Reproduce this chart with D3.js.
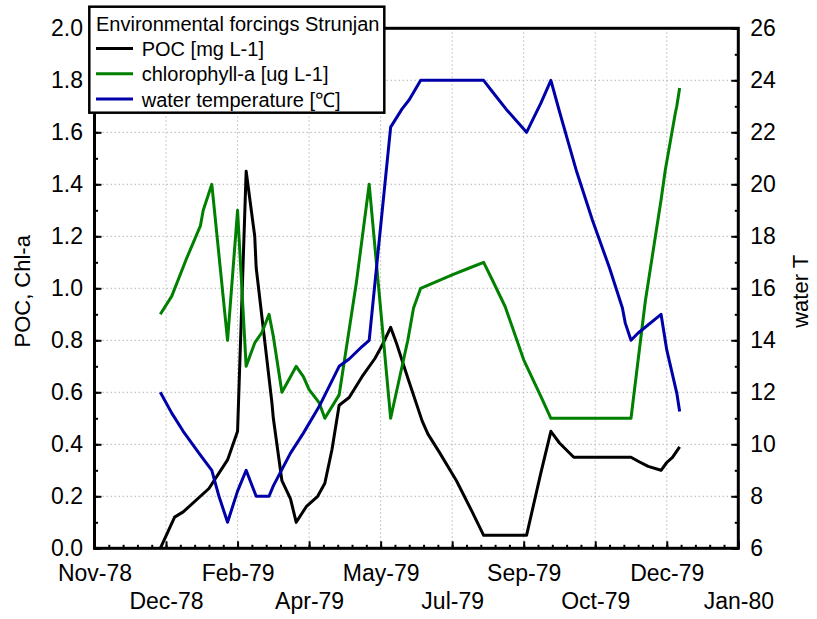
<!DOCTYPE html>
<html><head><meta charset="utf-8">
<script src="https://cdn.jsdelivr.net/npm/d3@7"></script>
<style>body{margin:0;background:#fff} svg{display:block} text{font-family:"Liberation Sans",Arial,sans-serif;fill:#000}</style>
</head><body><svg id="c" width="817" height="619"></svg>
<script>
// ---- data ----
const pocDates = ["1978-12-22","1979-01-01","1979-01-07","1979-01-25","1979-02-07","1979-02-14","1979-02-20","1979-02-26","1979-02-27","1979-03-10","1979-03-11","1979-03-17","1979-03-23","1979-03-27","1979-04-03","1979-04-11","1979-04-16","1979-04-21","1979-04-26","1979-05-03","1979-05-12","1979-05-21","1979-05-26","1979-06-01","1979-06-05","1979-06-13","1979-06-23","1979-06-27","1979-07-05","1979-07-17","1979-07-28","1979-08-05","1979-09-04","1979-09-14","1979-09-21","1979-09-27","1979-10-07","1979-11-16","1979-11-21","1979-11-28","1979-12-07","1979-12-11","1979-12-15","1979-12-20"];
const pocValues = [0.0,0.12,0.14,0.23,0.34,0.45,1.45,1.2,1.08,0.56,0.5,0.26,0.19,0.1,0.16,0.2,0.25,0.38,0.55,0.58,0.66,0.73,0.78,0.85,0.79,0.655,0.49,0.44,0.37,0.26,0.14,0.05,0.05,0.29,0.45,0.405,0.35,0.35,0.335,0.315,0.3,0.33,0.35,0.39];

const chlDates = ["1978-12-22","1978-12-30","1979-01-09","1979-01-19","1979-01-21","1979-01-27","1979-02-07","1979-02-14","1979-02-20","1979-02-26","1979-03-03","1979-03-08","1979-03-11","1979-03-17","1979-03-23","1979-03-27","1979-04-01","1979-04-05","1979-04-12","1979-04-16","1979-04-26","1979-05-08","1979-05-17","1979-06-01","1979-06-13","1979-06-17","1979-06-22","1979-07-03","1979-07-14","1979-07-26","1979-08-05","1979-08-11","1979-08-20","1979-09-02","1979-09-14","1979-09-21","1979-11-16","1979-11-26","1979-12-07","1979-12-10","1979-12-17","1979-12-18","1979-12-20"];
const chlValues = [0.9,0.97,1.11,1.24,1.3,1.4,0.8,1.3,0.7,0.79,0.83,0.9,0.815,0.6,0.66,0.7,0.66,0.61,0.56,0.5,0.59,1.02,1.4,0.5,0.8,0.924,1.0,1.026,1.052,1.078,1.1,1.033,0.93,0.725,0.584,0.5,0.5,0.95,1.34,1.456,1.674,1.7,1.77];

const tempDates = ["1978-12-22","1978-12-30","1979-01-07","1979-01-18","1979-01-27","1979-02-01","1979-02-07","1979-02-14","1979-02-20","1979-02-27","1979-03-08","1979-03-11","1979-03-23","1979-04-01","1979-04-12","1979-04-26","1979-05-03","1979-05-12","1979-05-17","1979-06-01","1979-06-09","1979-06-14","1979-06-22","1979-08-05","1979-08-11","1979-08-21","1979-09-04","1979-09-14","1979-09-21","1979-09-27","1979-10-04","1979-10-09","1979-10-20","1979-11-01","1979-11-10","1979-11-12","1979-11-16","1979-11-21","1979-12-07","1979-12-11","1979-12-18","1979-12-20"];
const tempValues = [12.0,11.2,10.5,9.66,9.0,8.0,7.0,8.2,9.0,8.0,8.0,8.4,9.66,10.43,11.45,13.0,13.28,13.76,14.0,22.2,22.9,23.25,24.0,24.0,23.57,22.87,22.0,23.12,24.0,22.8,21.45,20.49,18.63,16.78,15.24,14.66,14.0,14.28,15.0,13.63,11.97,11.26];

const xTickDates = ["1978-11-06","1978-12-26","1979-02-14","1979-04-05","1979-05-25","1979-07-14","1979-09-02","1979-10-22","1979-12-11","1980-01-30"];
const leftTicks = [0,0.2,0.4,0.6,0.8,1.0,1.2,1.4,1.6,1.8,2.0];
const rightTicks = [6,8,10,12,14,16,18,20,22,24,26];
const seriesNames = ["POC [mg L-1]","chlorophyll-a [ug L-1]","water temperature [\u2103]"];
const legendTitle = "Environmental forcings Strunjan";
const leftTitle = "POC, Chl-a";
const rightTitle = "water T";

// ---- layout ----
const svg = d3.select("#c");
const M = {l:94.5, r:738.3, t:28.3, b:548.3};
const parse = d3.timeParse("%Y-%m-%d");
const xt = xTickDates.map(parse);
const x = d3.scaleTime().domain([xt[0], xt[xt.length-1]]).range([M.l, M.r]);
const yL = d3.scaleLinear().domain([0,2]).range([M.b, M.t]);
const yR = d3.scaleLinear().domain([6,26]).range([M.b, M.t]);
const colors = ["#000000","#008000","#0000a8"];
const FS = 23;

// grid
const grid = svg.append("g").attr("stroke","#b8b8b8").attr("stroke-width",1).attr("stroke-dasharray","1.5,2.5");
grid.selectAll(".gv").data(xt.slice(1,-1)).enter().append("line")
  .attr("x1",d=>x(d)).attr("x2",d=>x(d)).attr("y1",M.t).attr("y2",M.b);
grid.selectAll(".gh").data(leftTicks.slice(1,-1)).enter().append("line")
  .attr("x1",M.l).attr("x2",M.r).attr("y1",d=>yL(d)).attr("y2",d=>yL(d));

// minor ticks
const minorX = d3.range(0, 451, 10).map(k=>d3.timeDay.offset(xt[0], k));
svg.append("g").attr("transform",`translate(0,${M.b})`)
  .call(d3.axisBottom(x).tickValues(minorX).tickSizeInner(-3.5).tickSizeOuter(0).tickFormat(""))
  .call(g=>{g.select(".domain").remove(); g.selectAll("line").attr("stroke-width",2);});
const minorY = d3.range(0, 21).map(k=>k*0.1);
svg.append("g").attr("transform",`translate(${M.l},0)`)
  .call(d3.axisLeft(yL).tickValues(minorY).tickSizeInner(-3.5).tickSizeOuter(0).tickFormat(""))
  .call(g=>{g.select(".domain").remove(); g.selectAll("line").attr("stroke-width",2);});
svg.append("g").attr("transform",`translate(${M.r},0)`)
  .call(d3.axisRight(yR).tickValues(d3.range(6,27,1)).tickSizeInner(-3.5).tickSizeOuter(0).tickFormat(""))
  .call(g=>{g.select(".domain").remove(); g.selectAll("line").attr("stroke-width",2);});

// major axes
const fmt = d3.timeFormat("%b-%y");
const ax = svg.append("g").attr("transform",`translate(0,${M.b})`)
  .call(d3.axisBottom(x).tickValues(xt).tickSizeInner(-7).tickSizeOuter(0).tickFormat(fmt));
ax.select(".domain").remove();
ax.selectAll("line").attr("stroke-width",2);
ax.selectAll("text").attr("font-size",FS).attr("font-family",null).attr("y",(d,i)=> i%2===0 ? 16.4 : 44.5);

const al = svg.append("g").attr("transform",`translate(${M.l},0)`)
  .call(d3.axisLeft(yL).tickValues(leftTicks).tickSizeInner(-7).tickSizeOuter(0).tickPadding(11.5).tickFormat(d3.format(".1f")));
al.select(".domain").remove();
al.selectAll("line").attr("stroke-width",2);
al.selectAll("text").attr("font-size",FS).attr("font-family",null);

const ar = svg.append("g").attr("transform",`translate(${M.r},0)`)
  .call(d3.axisRight(yR).tickValues(rightTicks).tickSizeInner(-7).tickSizeOuter(0).tickPadding(12).tickFormat(d3.format("d")));
ar.select(".domain").remove();
ar.selectAll("line").attr("stroke-width",2);
ar.selectAll("text").attr("font-size",FS).attr("font-family",null);

// frame
svg.append("rect").attr("x",M.l).attr("y",M.t).attr("width",M.r-M.l).attr("height",M.b-M.t)
  .attr("fill","none").attr("stroke","#000").attr("stroke-width",3);

// axis titles
svg.append("text").attr("transform",`translate(30,${(M.t+M.b)/2+3}) rotate(-90)`)
  .attr("text-anchor","middle").attr("font-size",22).text(leftTitle);
svg.append("text").attr("transform",`translate(808,${(M.t+M.b)/2+3}) rotate(-90)`)
  .attr("text-anchor","middle").attr("font-size",22).text(rightTitle);

// series
const mk = (dates, vals) => dates.map((d,i)=>({date:parse(d), v:vals[i]}));
const series = [
  {data: mk(pocDates,pocValues), y: yL},
  {data: mk(chlDates,chlValues), y: yL},
  {data: mk(tempDates,tempValues), y: yR}
];
series.forEach((s,i)=>{
  svg.append("path").datum(s.data)
    .attr("d", d3.line().x(d=>x(d.date)).y(d=>s.y(d.v)))
    .attr("fill","none").attr("stroke",colors[i]).attr("stroke-width",3)
    .attr("stroke-linejoin","round");
});

// legend
const lg = svg.append("g");
lg.append("rect").attr("x",89.3).attr("y",6.7).attr("width",295).attr("height",106)
  .attr("fill","#fff").attr("stroke","#000").attr("stroke-width",2.5);
lg.append("text").attr("x",96).attr("y",30.5).attr("font-size",20).text(legendTitle);
seriesNames.forEach((n,i)=>{
  const yy = 48.5 + i*25.3;
  lg.append("line").attr("x1",96).attr("x2",133).attr("y1",yy).attr("y2",yy)
    .attr("stroke",colors[i]).attr("stroke-width",3);
  lg.append("text").attr("x",141.7).attr("y",yy+7.5).attr("font-size",20).text(n);
});
</script></body></html>
